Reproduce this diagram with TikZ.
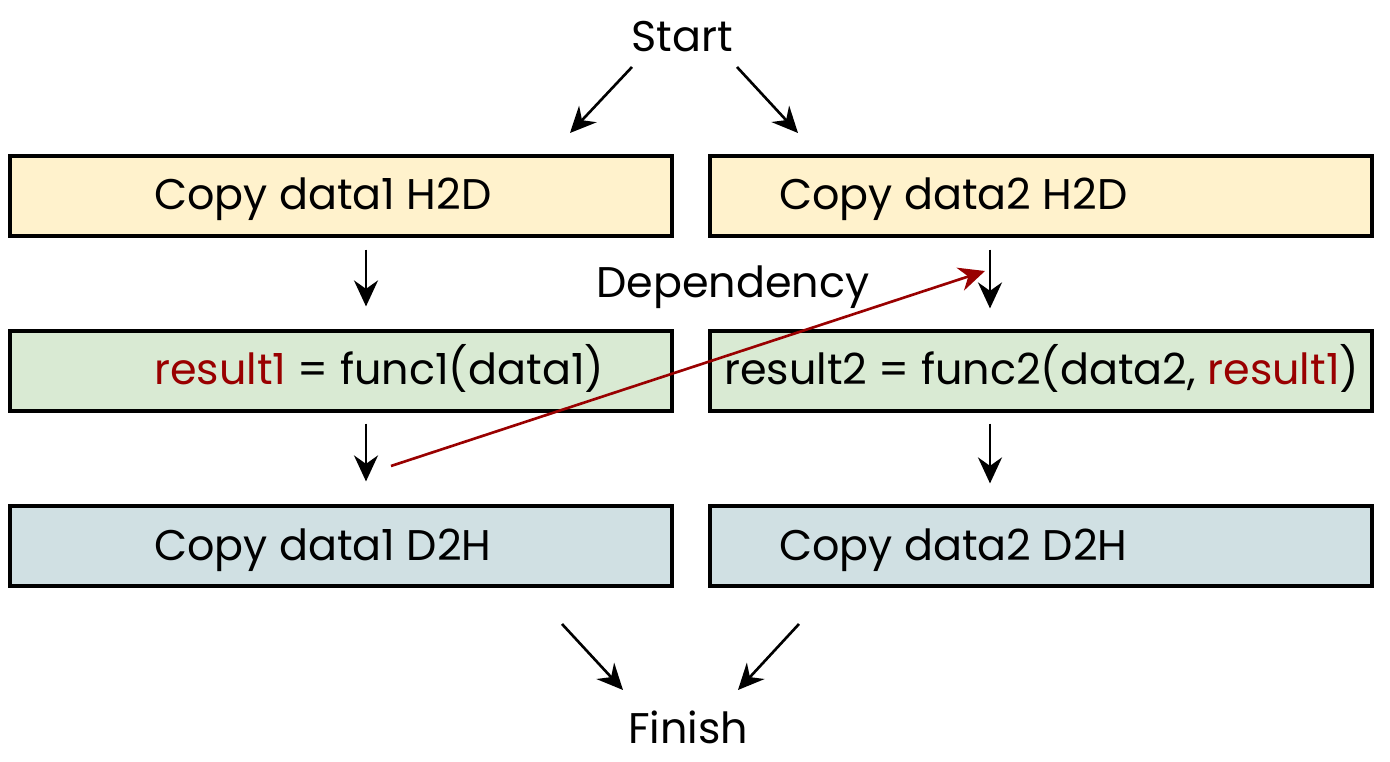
\documentclass[tikz,border=0pt]{standalone}
\usepackage{fontspec}
\setmainfont{Poppins}
\usetikzlibrary{arrows.meta}
\definecolor{hostyellow}{HTML}{FFF2CC}
\definecolor{kernelgreen}{HTML}{D9EAD3}
\definecolor{backblue}{HTML}{D0E0E3}
\definecolor{depred}{HTML}{990000}
\tikzset{
	stage/.style={draw=black, line width=0.9pt, minimum width=6.62cm, minimum height=0.8cm, inner sep=0pt},
	stagetext/.style={font=\fontsize{12.2}{14}\selectfont, inner sep=0pt, anchor=base west},
	plaintext/.style={font=\fontsize{12.2}{14}\selectfont, inner sep=0pt, anchor=base},
	flow/.style={-{Stealth[length=2.6mm,width=2.4mm]}, line width=0.75pt}
}

\begin{document}
\begin{tikzpicture}
			%%%%% START %%%%%
			\useasboundingbox (0, 0) rectangle (13.9, -7.62);
			
			\node[plaintext] (start) at (6.82, -0.52) {Start};
			\node[plaintext] (dep) at (7.33, -2.97) {Dependency};
			\node[plaintext] (finish) at (6.88, -7.43) {Finish};
			
			% host to device
			\node[stage, fill=hostyellow] (h2da) at (3.41, -1.96) {};
			\node[stage, fill=hostyellow] (h2db) at (10.41, -1.96) {};
			\node[stagetext] (h2datxt) at ([xshift=1.45cm, yshift=-0.14cm]h2da.west) {Copy data1 H2D};
			\node[stagetext] (h2dbtxt) at ([xshift=0.7cm, yshift=-0.14cm]h2db.west) {Copy data2 H2D};
			
			% kernels
			\node[stage, fill=kernelgreen] (funca) at (3.41, -3.71) {};
			\node[stage, fill=kernelgreen] (funcb) at (10.41, -3.71) {};
			\node[stagetext] (funcatxt) at ([xshift=1.45cm, yshift=-0.14cm]funca.west) {\textcolor{depred}{result1} = func1(data1)};
			\node[stagetext] (funcbtxt) at ([xshift=0.15cm, yshift=-0.14cm]funcb.west) {result2 = func2(data2, \textcolor{depred}{result1})};
			
			% device to host
			\node[stage, fill=backblue] (d2ha) at (3.41, -5.46) {};
			\node[stage, fill=backblue] (d2hb) at (10.41, -5.46) {};
			\node[stagetext] (d2hatxt) at ([xshift=1.45cm, yshift=-0.14cm]d2ha.west) {Copy data1 D2H};
			\node[stagetext] (d2hbtxt) at ([xshift=0.7cm, yshift=-0.14cm]d2hb.west) {Copy data2 D2H};
			
			% arrow ends
			\coordinate (sa) at (6.32, -0.67);
			\coordinate (sb) at (7.37, -0.67);
			\coordinate (ea) at (5.70, -1.33);
			\coordinate (eb) at (7.98, -1.33);
			\coordinate (fa) at (5.62, -6.24);
			\coordinate (fb) at (7.99, -6.24);
			\coordinate (ga) at (6.23, -6.90);
			\coordinate (gb) at (7.38, -6.90);
			\coordinate (depfrom) at (3.91, -4.66);
			\coordinate (depto) at (9.85, -2.71);
			
			\draw[flow] (sa) -- (ea);
			\draw[flow] (sb) -- (eb);
			
			\draw[flow] ([xshift=0.25cm, yshift=-0.12cm]h2da.south) -- ([xshift=0.25cm, yshift=0.23cm]funca.north);
			\draw[flow] ([xshift=-0.51cm, yshift=-0.12cm]h2db.south) -- ([xshift=-0.51cm, yshift=0.21cm]funcb.north);
			\draw[flow] ([xshift=0.25cm, yshift=-0.11cm]funca.south) -- ([xshift=0.25cm, yshift=0.23cm]d2ha.north);
			\draw[flow] ([xshift=-0.51cm, yshift=-0.11cm]funcb.south) -- ([xshift=-0.51cm, yshift=0.21cm]d2hb.north);
			
			\draw[flow, color=depred] (depfrom) -- (depto);
			
			\draw[flow] (fa) -- (ga);
			\draw[flow] (fb) -- (gb);
			%%%%% END %%%%%
\end{tikzpicture}
\end{document}
